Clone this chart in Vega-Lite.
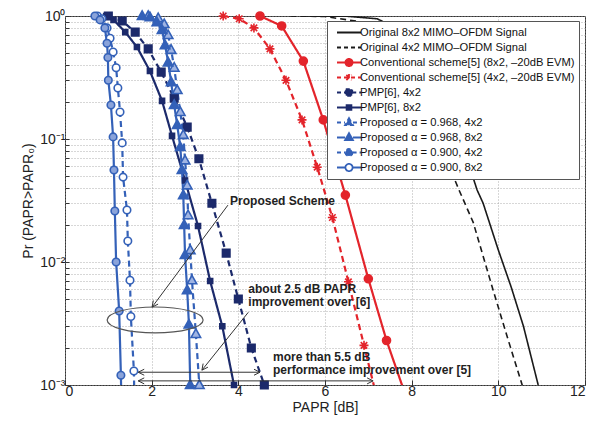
{
"$schema":"https://vega.github.io/schema/vega-lite/v6.json",
"width":520,"height":369,
"autosize":{"type":"none"},
"padding":{"left":65,"top":16,"right":16,"bottom":36},
"background":"white",
"config":{
 "font":"Liberation Sans",
 "view":{"stroke":"#333","strokeWidth":1},
 "axis":{"labelFont":"Liberation Sans","titleFont":"Liberation Sans","labelFontSize":14,"titleFontSize":14,"titleFontWeight":"normal","labelColor":"#222","titleColor":"#222","gridColor":"#9a9a9a","gridDash":[1,2],"gridWidth":0.8,"domain":false,"tickColor":"#333"},
 "legend":{"labelFont":"Liberation Sans","labelFontSize":11.2,"labelColor":"#111","symbolSize":576,"symbolStrokeWidth":1.8,"strokeColor":"#555","fillColor":"white","padding":4,"rowPadding":0,"clipHeight":15,"symbolOffset":5,"labelOffset":-2,"labelLimit":400}
},
"datasets":{
 "curves":[
  {"s":"Original 8x2 MIMO–OFDM Signal","x":5.5,"y":1},{"s":"Original 8x2 MIMO–OFDM Signal","x":6.5,"y":0.995},{"s":"Original 8x2 MIMO–OFDM Signal","x":7.2,"y":0.95},{"s":"Original 8x2 MIMO–OFDM Signal","x":7.8,"y":0.75},{"s":"Original 8x2 MIMO–OFDM Signal","x":8.4,"y":0.4},{"s":"Original 8x2 MIMO–OFDM Signal","x":8.9,"y":0.15},{"s":"Original 8x2 MIMO–OFDM Signal","x":9.3,"y":0.065},{"s":"Original 8x2 MIMO–OFDM Signal","x":9.51,"y":0.0385},{"s":"Original 8x2 MIMO–OFDM Signal","x":9.65,"y":0.03},{"s":"Original 8x2 MIMO–OFDM Signal","x":10.0,"y":0.0125},{"s":"Original 8x2 MIMO–OFDM Signal","x":10.3,"y":0.0062},{"s":"Original 8x2 MIMO–OFDM Signal","x":10.58,"y":0.003},{"s":"Original 8x2 MIMO–OFDM Signal","x":10.92,"y":0.001},{"s":"Original 8x2 MIMO–OFDM Signal","x":11.0,"y":0.0008},
  {"s":"Original 4x2 MIMO–OFDM Signal","x":5.2,"y":1},{"s":"Original 4x2 MIMO–OFDM Signal","x":6.0,"y":0.99},{"s":"Original 4x2 MIMO–OFDM Signal","x":6.8,"y":0.9},{"s":"Original 4x2 MIMO–OFDM Signal","x":7.5,"y":0.6},{"s":"Original 4x2 MIMO–OFDM Signal","x":8.1,"y":0.28},{"s":"Original 4x2 MIMO–OFDM Signal","x":8.6,"y":0.1},{"s":"Original 4x2 MIMO–OFDM Signal","x":9.1,"y":0.038},{"s":"Original 4x2 MIMO–OFDM Signal","x":9.42,"y":0.021},{"s":"Original 4x2 MIMO–OFDM Signal","x":9.88,"y":0.0059},{"s":"Original 4x2 MIMO–OFDM Signal","x":10.2,"y":0.0025},{"s":"Original 4x2 MIMO–OFDM Signal","x":10.55,"y":0.001},{"s":"Original 4x2 MIMO–OFDM Signal","x":10.6,"y":0.0008},
  {"s":"Conventional scheme[5] (8x2, –20dB EVM)","x":4.5,"y":1},{"s":"Conventional scheme[5] (8x2, –20dB EVM)","x":5.0,"y":0.83},{"s":"Conventional scheme[5] (8x2, –20dB EVM)","x":5.5,"y":0.43},{"s":"Conventional scheme[5] (8x2, –20dB EVM)","x":5.96,"y":0.143},{"s":"Conventional scheme[5] (8x2, –20dB EVM)","x":6.47,"y":0.035},{"s":"Conventional scheme[5] (8x2, –20dB EVM)","x":7.0,"y":0.0073},{"s":"Conventional scheme[5] (8x2, –20dB EVM)","x":7.42,"y":0.0023},{"s":"Conventional scheme[5] (8x2, –20dB EVM)","x":7.9,"y":0.00075},
  {"s":"Conventional scheme[5] (4x2, –20dB EVM)","x":3.65,"y":1},{"s":"Conventional scheme[5] (4x2, –20dB EVM)","x":4.02,"y":0.95},{"s":"Conventional scheme[5] (4x2, –20dB EVM)","x":4.36,"y":0.8},{"s":"Conventional scheme[5] (4x2, –20dB EVM)","x":4.73,"y":0.54},{"s":"Conventional scheme[5] (4x2, –20dB EVM)","x":5.1,"y":0.3},{"s":"Conventional scheme[5] (4x2, –20dB EVM)","x":5.47,"y":0.143},{"s":"Conventional scheme[5] (4x2, –20dB EVM)","x":5.82,"y":0.059},{"s":"Conventional scheme[5] (4x2, –20dB EVM)","x":6.17,"y":0.023},{"s":"Conventional scheme[5] (4x2, –20dB EVM)","x":6.54,"y":0.0069},{"s":"Conventional scheme[5] (4x2, –20dB EVM)","x":6.9,"y":0.0021},{"s":"Conventional scheme[5] (4x2, –20dB EVM)","x":7.28,"y":0.0006},
  {"s":"PMP[6], 4x2","x":1.0,"y":1},{"s":"PMP[6], 4x2","x":1.32,"y":0.91},{"s":"PMP[6], 4x2","x":1.62,"y":0.74},{"s":"PMP[6], 4x2","x":1.92,"y":0.54},{"s":"PMP[6], 4x2","x":2.22,"y":0.35},{"s":"PMP[6], 4x2","x":2.52,"y":0.215},{"s":"PMP[6], 4x2","x":2.82,"y":0.125},{"s":"PMP[6], 4x2","x":3.09,"y":0.069},{"s":"PMP[6], 4x2","x":3.39,"y":0.03},{"s":"PMP[6], 4x2","x":3.72,"y":0.0118},{"s":"PMP[6], 4x2","x":4.0,"y":0.005},{"s":"PMP[6], 4x2","x":4.3,"y":0.002},{"s":"PMP[6], 4x2","x":4.6,"y":0.001},
  {"s":"PMP[6], 8x2","x":0.95,"y":1},{"s":"PMP[6], 8x2","x":1.12,"y":0.93},{"s":"PMP[6], 8x2","x":1.39,"y":0.74},{"s":"PMP[6], 8x2","x":1.66,"y":0.56},{"s":"PMP[6], 8x2","x":1.96,"y":0.357},{"s":"PMP[6], 8x2","x":2.24,"y":0.204},{"s":"PMP[6], 8x2","x":2.47,"y":0.106},{"s":"PMP[6], 8x2","x":2.77,"y":0.046},{"s":"PMP[6], 8x2","x":3.07,"y":0.0196},{"s":"PMP[6], 8x2","x":3.35,"y":0.007},{"s":"PMP[6], 8x2","x":3.63,"y":0.003},{"s":"PMP[6], 8x2","x":3.9,"y":0.001},
  {"s":"Proposed α = 0.968, 4x2","x":1.92,"y":1},{"s":"Proposed α = 0.968, 4x2","x":2.15,"y":0.96},{"s":"Proposed α = 0.968, 4x2","x":2.29,"y":0.86},{"s":"Proposed α = 0.968, 4x2","x":2.38,"y":0.7},{"s":"Proposed α = 0.968, 4x2","x":2.45,"y":0.53},{"s":"Proposed α = 0.968, 4x2","x":2.52,"y":0.38},{"s":"Proposed α = 0.968, 4x2","x":2.59,"y":0.25},{"s":"Proposed α = 0.968, 4x2","x":2.66,"y":0.166},{"s":"Proposed α = 0.968, 4x2","x":2.73,"y":0.108},{"s":"Proposed α = 0.968, 4x2","x":2.77,"y":0.067},{"s":"Proposed α = 0.968, 4x2","x":2.82,"y":0.042},{"s":"Proposed α = 0.968, 4x2","x":2.84,"y":0.024},{"s":"Proposed α = 0.968, 4x2","x":2.89,"y":0.0125},{"s":"Proposed α = 0.968, 4x2","x":2.93,"y":0.0071},{"s":"Proposed α = 0.968, 4x2","x":3.02,"y":0.0026},{"s":"Proposed α = 0.968, 4x2","x":3.1,"y":0.001},
  {"s":"Proposed α = 0.968, 8x2","x":1.78,"y":1},{"s":"Proposed α = 0.968, 8x2","x":1.96,"y":0.98},{"s":"Proposed α = 0.968, 8x2","x":2.12,"y":0.89},{"s":"Proposed α = 0.968, 8x2","x":2.24,"y":0.77},{"s":"Proposed α = 0.968, 8x2","x":2.31,"y":0.58},{"s":"Proposed α = 0.968, 8x2","x":2.38,"y":0.42},{"s":"Proposed α = 0.968, 8x2","x":2.45,"y":0.29},{"s":"Proposed α = 0.968, 8x2","x":2.52,"y":0.189},{"s":"Proposed α = 0.968, 8x2","x":2.59,"y":0.13},{"s":"Proposed α = 0.968, 8x2","x":2.66,"y":0.086},{"s":"Proposed α = 0.968, 8x2","x":2.7,"y":0.056},{"s":"Proposed α = 0.968, 8x2","x":2.73,"y":0.035},{"s":"Proposed α = 0.968, 8x2","x":2.75,"y":0.02},{"s":"Proposed α = 0.968, 8x2","x":2.77,"y":0.0114},{"s":"Proposed α = 0.968, 8x2","x":2.82,"y":0.0059},{"s":"Proposed α = 0.968, 8x2","x":2.86,"y":0.0031},{"s":"Proposed α = 0.968, 8x2","x":2.89,"y":0.001},
  {"s":"Proposed α = 0.900, 4x2","x":0.75,"y":1},{"s":"Proposed α = 0.900, 4x2","x":0.85,"y":0.95},{"s":"Proposed α = 0.900, 4x2","x":0.97,"y":0.8},{"s":"Proposed α = 0.900, 4x2","x":1.04,"y":0.66},{"s":"Proposed α = 0.900, 4x2","x":1.11,"y":0.51},{"s":"Proposed α = 0.900, 4x2","x":1.18,"y":0.38},{"s":"Proposed α = 0.900, 4x2","x":1.22,"y":0.26},{"s":"Proposed α = 0.900, 4x2","x":1.27,"y":0.166},{"s":"Proposed α = 0.900, 4x2","x":1.32,"y":0.093},{"s":"Proposed α = 0.900, 4x2","x":1.34,"y":0.049},{"s":"Proposed α = 0.900, 4x2","x":1.43,"y":0.0265},{"s":"Proposed α = 0.900, 4x2","x":1.45,"y":0.0148},{"s":"Proposed α = 0.900, 4x2","x":1.5,"y":0.0071},{"s":"Proposed α = 0.900, 4x2","x":1.52,"y":0.0036},{"s":"Proposed α = 0.900, 4x2","x":1.59,"y":0.0013},{"s":"Proposed α = 0.900, 4x2","x":1.61,"y":0.0005},
  {"s":"Proposed α = 0.900, 8x2","x":0.69,"y":1},{"s":"Proposed α = 0.900, 8x2","x":0.81,"y":0.93},{"s":"Proposed α = 0.900, 8x2","x":0.92,"y":0.8},{"s":"Proposed α = 0.900, 8x2","x":0.97,"y":0.6},{"s":"Proposed α = 0.900, 8x2","x":0.99,"y":0.46},{"s":"Proposed α = 0.900, 8x2","x":1.0,"y":0.3},{"s":"Proposed α = 0.900, 8x2","x":1.06,"y":0.189},{"s":"Proposed α = 0.900, 8x2","x":1.11,"y":0.104},{"s":"Proposed α = 0.900, 8x2","x":1.13,"y":0.056},{"s":"Proposed α = 0.900, 8x2","x":1.15,"y":0.026},{"s":"Proposed α = 0.900, 8x2","x":1.18,"y":0.01},{"s":"Proposed α = 0.900, 8x2","x":1.25,"y":0.004},{"s":"Proposed α = 0.900, 8x2","x":1.29,"y":0.0012},{"s":"Proposed α = 0.900, 8x2","x":1.31,"y":0.0005}
 ],
 "notes":[
  {"x":3.81,"y":0.0313,"t":"Proposed Scheme"},
  {"x":4.23,"y":0.00603,"t":"about 2.5 dB PAPR"},
  {"x":4.23,"y":0.00473,"t":"improvement over [6]"},
  {"x":4.8,"y":0.00169,"t":"more than 5.5 dB"},
  {"x":4.8,"y":0.00132,"t":"performance improvement over [5]"}
 ],
 "segs":[
  {"x":3.76,"y":0.029,"x2":2.01,"y2":0.0043},
  {"x":4.23,"y":0.0039,"x2":3.16,"y2":0.00132},
  {"x":1.69,"y":0.00127,"x2":4.5,"y2":0.00127},
  {"x":1.69,"y":0.00108,"x2":7.11,"y2":0.00108}
 ],
 "lefts":[{"x":1.69,"y":0.00127},{"x":1.69,"y":0.00108}],
 "rights":[{"x":4.5,"y":0.00127},{"x":7.11,"y":0.00108}],
 "diags":[{"x":2.01,"y":0.0043},{"x":3.16,"y":0.00132}],
 "ellipse":[{"x":2.08,"y":0.00338}]
},
"encoding":{
 "x":{"field":"x","type":"quantitative","scale":{"domain":[0,12],"nice":false},
   "axis":{"values":[0,2,4,6,8,10,12],"title":"PAPR [dB]","grid":true,"tickSize":-5,"labelPadding":4,"titlePadding":2}},
 "y":{"field":"y","type":"quantitative","scale":{"type":"log","domain":[0.001,1],"nice":false},
   "axis":{"values":[0.001,0.002,0.003,0.004,0.005,0.006,0.007,0.008,0.009,0.01,0.02,0.03,0.04,0.05,0.06,0.07,0.08,0.09,0.1,0.2,0.3,0.4,0.5,0.6,0.7,0.8,0.9,1],
    "labelExpr":"datum.value == 1 ? '10⁰' : datum.value == 0.1 ? '10⁻¹' : datum.value == 0.01 ? '10⁻²' : datum.value == 0.001 ? '10⁻³' : ''",
    "title":"Pr (PAPR>PAPR₀)","grid":true,"tickSize":-4,"labelPadding":4,"titlePadding":4,"labelOverlap":false}}
},
"layer":[
  {"data":{"name":"curves"},
   "transform":[{"filter":"indexof(datum.s,'Original') == 0"}],
   "mark":{"type":"line","strokeWidth":1.6,"clip":true},
   "encoding":{
    "order":{"field":"y","type":"quantitative","sort":"descending"},
    "detail":{"field":"s"},
    "stroke":{"field":"s","type":"nominal","legend":null,
      "scale":{"domain":["Original 8x2 MIMO–OFDM Signal","Original 4x2 MIMO–OFDM Signal"],"range":["#1a1a1a","#1a1a1a"]}},
    "strokeDash":{"field":"s","type":"nominal","legend":null,
      "scale":{"domain":["Original 8x2 MIMO–OFDM Signal","Original 4x2 MIMO–OFDM Signal"],"range":[[1,0],[6,4]]}}
   }},
  {"data":{"name":"curves"},
   "transform":[{"filter":"indexof(datum.s,'Original') != 0"}],
   "mark":{"type":"line","strokeWidth":2.2,"clip":true},
   "encoding":{
    "order":{"field":"y","type":"quantitative","sort":"descending"},
    "detail":{"field":"s"},
    "stroke":{"field":"s","type":"nominal","legend":null,
      "scale":{"domain":["Conventional scheme[5] (8x2, –20dB EVM)","Conventional scheme[5] (4x2, –20dB EVM)","PMP[6], 4x2","PMP[6], 8x2","Proposed α = 0.968, 4x2","Proposed α = 0.968, 8x2","Proposed α = 0.900, 4x2","Proposed α = 0.900, 8x2"],
       "range":["#e3242b","#e3242b","#1c2a6b","#1c2a6b","#3461b8","#3461b8","#3461b8","#3461b8"]}},
    "strokeDash":{"field":"s","type":"nominal","legend":null,
      "scale":{"domain":["Conventional scheme[5] (8x2, –20dB EVM)","Conventional scheme[5] (4x2, –20dB EVM)","PMP[6], 4x2","PMP[6], 8x2","Proposed α = 0.968, 4x2","Proposed α = 0.968, 8x2","Proposed α = 0.900, 4x2","Proposed α = 0.900, 8x2"],
       "range":[[1,0],[6,4],[6,4],[1,0],[6,4],[1,0],[6,4],[1,0]]}}
   }},
  {"data":{"name":"curves"},
   "transform":[{"filter":"indexof(datum.s,'Original') != 0 && datum.y >= 0.00099"}],
   "mark":{"type":"point","filled":true,"size":100,"strokeWidth":1.6,"opacity":1},
   "encoding":{
    "stroke":{"field":"s","type":"nominal","legend":null,
      "scale":{"domain":["Conventional scheme[5] (8x2, –20dB EVM)","Conventional scheme[5] (4x2, –20dB EVM)","PMP[6], 4x2","PMP[6], 8x2","Proposed α = 0.968, 4x2","Proposed α = 0.968, 8x2","Proposed α = 0.900, 4x2","Proposed α = 0.900, 8x2"],
       "range":["#e3242b","#e3242b","#1c2a6b","#1c2a6b","#3461b8","#3461b8","#3461b8","#3461b8"]}},
    "fill":{"field":"s","type":"nominal","legend":null,
      "scale":{"domain":["Conventional scheme[5] (8x2, –20dB EVM)","Conventional scheme[5] (4x2, –20dB EVM)","PMP[6], 4x2","PMP[6], 8x2","Proposed α = 0.968, 4x2","Proposed α = 0.968, 8x2","Proposed α = 0.900, 4x2","Proposed α = 0.900, 8x2"],
       "range":["#e3242b","#e3242b","#1c2a6b","#1c2a6b","#9fb4e3","#3461b8","#ffffff","#8aa3da"]}},
    "shape":{"field":"s","type":"nominal","legend":null,
      "scale":{"domain":["Conventional scheme[5] (8x2, –20dB EVM)","Conventional scheme[5] (4x2, –20dB EVM)","PMP[6], 4x2","PMP[6], 8x2","Proposed α = 0.968, 4x2","Proposed α = 0.968, 8x2","Proposed α = 0.900, 4x2","Proposed α = 0.900, 8x2"],
       "range":["M0.8,0A0.8,0.8 0 1,1 -0.8,0A0.8,0.8 0 1,1 0.8,0Z","M-0.9,0H0.9M0,-0.9V0.9M-0.65,-0.65L0.65,0.65M-0.65,0.65L0.65,-0.65","M-0.75,-0.75H0.75V0.75H-0.75Z","M-0.5,-0.5H0.5V0.5H-0.5Z","M0,-1L0.95,0.7H-0.95Z","M0,-1L0.95,0.7H-0.95Z","M0.75,0A0.75,0.75 0 1,1 -0.75,0A0.75,0.75 0 1,1 0.75,0Z","M0.75,0A0.75,0.75 0 1,1 -0.75,0A0.75,0.75 0 1,1 0.75,0Z"]}}
   }},
  {"data":{"name":"segs"},
   "mark":{"type":"rule","stroke":"#333","strokeWidth":1},
   "encoding":{"x2":{"field":"x2"},"y2":{"field":"y2"}}},
  {"data":{"name":"ellipse"},
   "mark":{"type":"point","filled":false,"stroke":"#555","strokeWidth":1.2,"size":9216,"shape":"M-1,0A1,0.27 0 1,1 1,0A1,0.27 0 1,1 -1,0Z","opacity":1},
   "encoding":{}},
  {"data":{"name":"lefts"},
   "mark":{"type":"point","filled":false,"stroke":"#333","strokeWidth":1,"size":144,"shape":"M1,-0.5L0,0L1,0.5","opacity":1},
   "encoding":{}},
  {"data":{"name":"rights"},
   "mark":{"type":"point","filled":false,"stroke":"#333","strokeWidth":1,"size":144,"shape":"M-1,-0.5L0,0L-1,0.5","opacity":1},
   "encoding":{}},
  {"data":{"name":"diags"},
   "mark":{"type":"point","filled":false,"stroke":"#333","strokeWidth":1,"size":144,"shape":"M1,-0.5L0,0L0.2,-1.1","opacity":1},
   "encoding":{}},
  {"data":{"name":"notes"},
   "mark":{"type":"text","align":"left","baseline":"middle","fontWeight":"bold","fontSize":12,"font":"Liberation Sans","color":"#222"},
   "encoding":{"text":{"field":"t"}}},
  {"data":{"name":"curves"},
   "transform":[{"aggregate":[{"op":"count","as":"n"}],"groupby":["s"]}],
   "mark":{"type":"point","filled":true,"clip":true,"size":576,"opacity":1},
   "encoding":{
    "x":{"datum":-5},
    "y":{"datum":0.5},
    "stroke":{"field":"s","type":"nominal","legend":{"title":null,"orient":"none","legendX":262,"legendY":5},
      "scale":{"domain":["Original 8x2 MIMO–OFDM Signal","Original 4x2 MIMO–OFDM Signal","Conventional scheme[5] (8x2, –20dB EVM)","Conventional scheme[5] (4x2, –20dB EVM)","PMP[6], 4x2","PMP[6], 8x2","Proposed α = 0.968, 4x2","Proposed α = 0.968, 8x2","Proposed α = 0.900, 4x2","Proposed α = 0.900, 8x2"],
       "range":["#1a1a1a","#1a1a1a","#e3242b","#e3242b","#1c2a6b","#1c2a6b","#3461b8","#3461b8","#3461b8","#3461b8"]}},
    "fill":{"field":"s","type":"nominal","legend":{"title":null,"orient":"none","legendX":262,"legendY":5},
      "scale":{"domain":["Original 8x2 MIMO–OFDM Signal","Original 4x2 MIMO–OFDM Signal","Conventional scheme[5] (8x2, –20dB EVM)","Conventional scheme[5] (4x2, –20dB EVM)","PMP[6], 4x2","PMP[6], 8x2","Proposed α = 0.968, 4x2","Proposed α = 0.968, 8x2","Proposed α = 0.900, 4x2","Proposed α = 0.900, 8x2"],
       "range":["#1a1a1a","#1a1a1a","#e3242b","#e3242b","#1c2a6b","#1c2a6b","#3461b8","#3461b8","#3461b8","#ffffff"]}},
    "strokeDash":{"field":"s","type":"nominal","legend":{"title":null,"orient":"none","legendX":262,"legendY":5},
      "scale":{"domain":["Original 8x2 MIMO–OFDM Signal","Original 4x2 MIMO–OFDM Signal","Conventional scheme[5] (8x2, –20dB EVM)","Conventional scheme[5] (4x2, –20dB EVM)","PMP[6], 4x2","PMP[6], 8x2","Proposed α = 0.968, 4x2","Proposed α = 0.968, 8x2","Proposed α = 0.900, 4x2","Proposed α = 0.900, 8x2"],
       "range":[[1,0],[4,3],[1,0],[4,3],[4,3],[1,0],[4,3],[1,0],[4,3],[1,0]]}},
    "shape":{"field":"s","type":"nominal","legend":{"title":null,"orient":"none","legendX":262,"legendY":5},
      "scale":{"domain":["Original 8x2 MIMO–OFDM Signal","Original 4x2 MIMO–OFDM Signal","Conventional scheme[5] (8x2, –20dB EVM)","Conventional scheme[5] (4x2, –20dB EVM)","PMP[6], 4x2","PMP[6], 8x2","Proposed α = 0.968, 4x2","Proposed α = 0.968, 8x2","Proposed α = 0.900, 4x2","Proposed α = 0.900, 8x2"],
       "range":["M-1,0H1","M-1,0H1","M-1,0H-0.3M0.3,0H1M0.3,0A0.3,0.3 0 1,1 -0.3,0A0.3,0.3 0 1,1 0.3,0Z","M-1,0H1M0,-0.3V0.3M-0.22,-0.22L0.22,0.22M-0.22,0.22L0.22,-0.22","M-1,0H-0.27M0.27,0H1M-0.27,-0.27H0.27V0.27H-0.27Z","M-1,0H-0.2M0.2,0H1M-0.2,-0.2H0.2V0.2H-0.2Z","M-1,0H-0.33M0.33,0H1M0,-0.36L0.33,0.22H-0.33Z","M-1,0H-0.33M0.33,0H1M0,-0.36L0.33,0.22H-0.33Z","M-1,0H-0.3M0.3,0H1M0.3,0A0.3,0.3 0 1,1 -0.3,0A0.3,0.3 0 1,1 0.3,0Z","M-1,0H-0.3M0.3,0H1M0.3,0A0.3,0.3 0 1,1 -0.3,0A0.3,0.3 0 1,1 0.3,0Z"]}}
   }}
],
"resolve":{"scale":{"stroke":"independent","fill":"independent","strokeDash":"independent","shape":"independent"}}
}
